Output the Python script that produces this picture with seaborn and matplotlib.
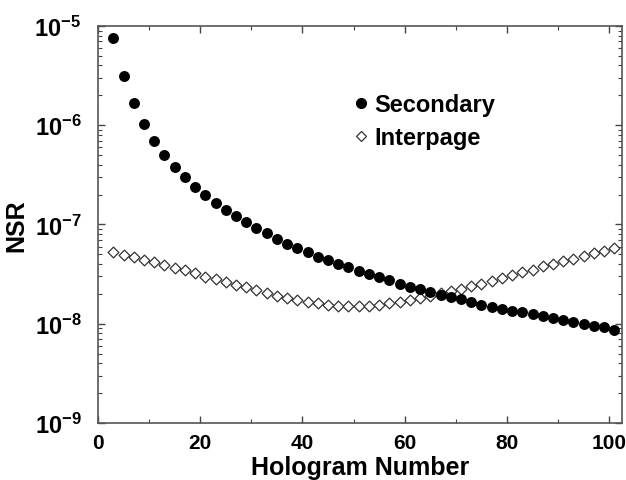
import matplotlib
matplotlib.use("Agg")
import matplotlib.pyplot as plt
import seaborn as sns
import pandas as pd
import numpy as np
from matplotlib.ticker import LogLocator, MultipleLocator, NullFormatter
from matplotlib.lines import Line2D

hologram = list(range(3, 102, 2))

secondary = [7.6e-6, 3.1e-6, 1.67e-6, 1.02e-6, 7.0e-7, 5.06e-7, 3.83e-7, 3.02e-7, 2.41e-7, 1.99e-7,
             1.65e-7, 1.40e-7, 1.21e-7, 1.05e-7, 9.25e-8, 8.17e-8, 7.21e-8, 6.43e-8, 5.77e-8, 5.26e-8,
             4.75e-8, 4.37e-8, 4.01e-8, 3.71e-8, 3.43e-8, 3.18e-8, 2.95e-8, 2.75e-8, 2.54e-8, 2.37e-8,
             2.23e-8, 2.10e-8, 1.97e-8, 1.88e-8, 1.78e-8, 1.66e-8, 1.56e-8, 1.48e-8, 1.42e-8, 1.35e-8,
             1.30e-8, 1.24e-8, 1.19e-8, 1.14e-8, 1.09e-8, 1.05e-8, 9.97e-9, 9.5e-9, 9.2e-9, 8.75e-9]

interpage = [5.33e-8, 4.98e-8, 4.69e-8, 4.40e-8, 4.17e-8, 3.92e-8, 3.66e-8, 3.44e-8, 3.24e-8, 2.99e-8,
             2.81e-8, 2.64e-8, 2.48e-8, 2.32e-8, 2.18e-8, 2.05e-8, 1.92e-8, 1.82e-8, 1.73e-8, 1.65e-8,
             1.61e-8, 1.55e-8, 1.52e-8, 1.51e-8, 1.51e-8, 1.52e-8, 1.55e-8, 1.60e-8, 1.67e-8, 1.74e-8,
             1.82e-8, 1.92e-8, 2.02e-8, 2.13e-8, 2.26e-8, 2.39e-8, 2.52e-8, 2.70e-8, 2.91e-8, 3.11e-8,
             3.29e-8, 3.52e-8, 3.79e-8, 4.02e-8, 4.30e-8, 4.53e-8, 4.84e-8, 5.18e-8, 5.46e-8, 5.81e-8]

x_ticks = [0, 20, 40, 60, 80, 100]
y_ticks = [1e-9, 1e-8, 1e-7, 1e-6, 1e-5]
y_tick_labels = [r"$\mathbf{10^{-9}}$", r"$\mathbf{10^{-8}}$", r"$\mathbf{10^{-7}}$",
                 r"$\mathbf{10^{-6}}$", r"$\mathbf{10^{-5}}$"]

sns.set_theme(style="ticks")
plt.rcParams['font.family'] = ['Liberation Sans', 'DejaVu Sans']
plt.rcParams['mathtext.fontset'] = 'custom'
plt.rcParams['mathtext.rm'] = 'Liberation Sans'
plt.rcParams['mathtext.bf'] = 'Liberation Sans:bold'
plt.rcParams['text.color'] = 'black'
plt.rcParams['axes.labelcolor'] = 'black'
plt.rcParams['xtick.labelcolor'] = 'black'
plt.rcParams['ytick.labelcolor'] = 'black'

df = pd.DataFrame({"Hologram": hologram, "Secondary": secondary, "Interpage": interpage})

fig = plt.figure(figsize=(6.26, 4.81), dpi=100)
ax = fig.add_axes([0.1565, 0.1185, 0.8371, 0.8254])

sns.scatterplot(data=df, x="Hologram", y="Secondary", ax=ax, marker="o", s=62,
                color="black", edgecolor="black", linewidth=0, zorder=3)
sns.scatterplot(data=df, x="Hologram", y="Interpage", ax=ax, marker="D", s=30,
                facecolor="white", edgecolor="#333333", linewidth=0.9, zorder=2)

ax.set_yscale("log")
ax.set_xlim(0, 102.5)
ax.set_ylim(1e-9, 1e-5)

ax.set_xticks(x_ticks)
ax.set_xticklabels([str(v) for v in x_ticks], fontsize=15, fontweight="bold")
ax.xaxis.set_minor_locator(MultipleLocator(10))
ax.set_yticks(y_ticks)
ax.set_yticklabels(y_tick_labels, fontsize=17)
ax.yaxis.set_minor_locator(LogLocator(base=10, subs=np.arange(2, 10), numticks=20))
ax.yaxis.set_minor_formatter(NullFormatter())

ax.tick_params(which="both", direction="in", top=True, right=True, color="#444444")
ax.tick_params(which="major", length=5, width=1)
ax.tick_params(which="minor", length=3, width=0.8)
ax.tick_params(axis="x", pad=7)
ax.tick_params(axis="y", pad=12)

for sp in ax.spines.values():
    sp.set_color("#555555")
    sp.set_linewidth(1.2)

ax.set_xlabel("Hologram Number", fontsize=18, fontweight="bold", labelpad=2)
ax.set_ylabel("NSR", fontsize=18, fontweight="bold", labelpad=4)

handles = [Line2D([], [], marker="o", linestyle="none", color="black", markersize=7),
           Line2D([], [], marker="D", linestyle="none", markerfacecolor="white",
                  markeredgecolor="#333333", markeredgewidth=0.9, markersize=5)]
leg = ax.legend(handles, ["Secondary", "Interpage"], loc="upper left",
                bbox_to_anchor=(0.465, 0.86), frameon=False, handlelength=0.6,
                handletextpad=0.3, labelspacing=0.4, borderpad=0,
                prop={"weight": "bold", "size": 17})

fig.savefig("out.png", dpi=100)
